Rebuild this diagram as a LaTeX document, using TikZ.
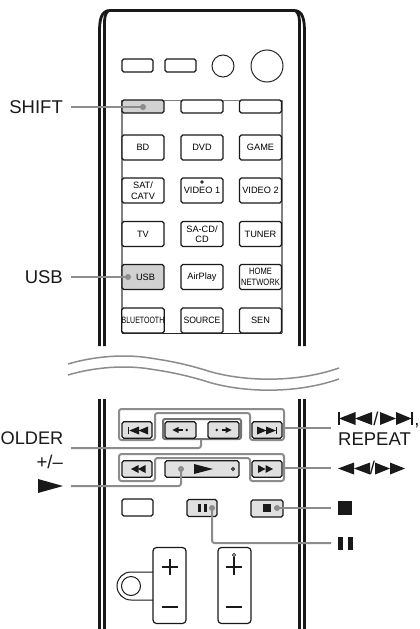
\documentclass[tikz,border=0pt]{standalone}
\usepackage{fontspec}
\setmainfont{Liberation Sans}
\tikzset{
  x=1pt,y=-1pt,
  body/.style={line width=2.8pt,color=black!90},
  conn/.style={line width=2pt,color=black!45,rounded corners=2.5pt},
  frameline/.style={line width=2pt,color=black!45,rounded corners=2.5pt},
  thinframe/.style={line width=1.2pt,color=black!50},
  btn/.style={draw=black!90,line width=1.2pt,rounded corners=1.8pt,fill=white,inner sep=0pt,align=center,
     minimum width=42pt,minimum height=25pt,font=\fontsize{9.2}{10.5}\selectfont,text=black},
  wideb/.style={btn,minimum height=13pt},
  tbtn/.style={btn,fill=black!12,minimum width=30pt,minimum height=16.5pt},
  dot/.style={circle,fill=black!45,inner sep=0pt,minimum size=6pt},
  glyph/.style={fill=black!90,draw=none},
  lab/.style={inner sep=0pt,font=\fontsize{18.5}{20}\selectfont,text=black!90},
  wave/.style={line width=1.5pt,color=black!45}
}
\begin{document}
\begin{tikzpicture}
\useasboundingbox (0,0) rectangle (420,629);
\clip (0,0) rectangle (420,629);
\fill[white] (0,0) rectangle (420,629);
% remote body, upper part
\draw[body] (99.5,346) -- (99.5,32) .. controls (99.5,20) and (101,10.5) .. (110,10.5) -- (294,10.5) .. controls (303,10.5) and (304.5,20) .. (304.5,32) -- (304.5,346);
\draw[body] (104.5,346) -- (104.5,24) .. controls (104.5,18) and (105,14) .. (108,11);
\draw[body] (299.5,346) -- (299.5,24) .. controls (299.5,18) and (299,14) .. (296,11);
% remote body, lower part
\draw[body] (99.5,399) -- (99.5,629);
\draw[body] (104.5,399) -- (104.5,629);
\draw[body] (299.5,399) -- (299.5,629);
\draw[body] (304.5,399) -- (304.5,629);
% break marks
\draw[wave] (68,364) .. controls (95,356) and (125,354) .. (150,358) .. controls (170,361) and (185,364) .. (205,370) .. controls (235,380) and (290,385) .. (339,368);
\draw[wave] (68,375) .. controls (95,367) and (125,365) .. (150,369) .. controls (170,372) and (185,375) .. (205,381) .. controls (235,391) and (290,396) .. (339,379);
% top controls
\node[btn,minimum width=31pt,minimum height=13pt] (t1) at (137.5,65.5) {};
\node[btn,minimum width=31pt,minimum height=13pt] (t2) at (180.5,65.5) {};
\node[circle,draw=black!85,line width=1pt,minimum size=22pt,inner sep=0pt] (t3) at (223,66) {};
\node[circle,draw=black!85,line width=1pt,minimum size=32pt,inner sep=0pt] (t4) at (267,66) {};
% input block frame
\draw[thinframe] (122,100) -- (122,333);
\draw[thinframe] (282,100) -- (282,333);
\draw[black!50,line width=.7pt] (122,100) -- (282,100);
\draw[black!85,line width=1pt] (122,333) -- (282,333);
% input buttons
\node[wideb,fill=black!18] (shiftb) at (143,106.5) {};
\node[wideb] (r1b) at (202,106.5) {};
\node[wideb] (r1c) at (260.5,106.5) {};
\node[btn] (bd) at (143,147.5) {BD};
\node[btn] (dvd) at (202,147.5) {DVD};
\node[btn] (game) at (260.5,147.5) {GAME};
\node[btn] (sat) at (143,190.5) {SAT/\\CATV};
\node[btn] (v1) at (202,190.5) {VIDEO 1};
\node[btn] (v2) at (260.5,190.5) {VIDEO 2};
\node[circle,draw=black!90,line width=.8pt,minimum size=2.6pt,inner sep=0pt] (v1dot) at (202,182) {};
\node[btn] (tv) at (143,234) {TV};
\node[btn] (sacd) at (202,234) {SA-CD/\\CD};
\node[btn] (tuner) at (260.5,234) {TUNER};
\node[btn,fill=black!18] (usb) at (143,277) {\hspace*{5pt}USB};
\node[btn] (airplay) at (202,277) {AirPlay};
\node[btn] (home) at (260.5,277) {\scalebox{.82}[1]{HOME}\\\scalebox{.82}[1]{NETWORK}};
\node[btn] (bt) at (143,320.5) {\scalebox{.76}[1]{BLUETOOTH}};
\node[btn] (source) at (202,320.5) {\scalebox{.94}[1]{SOURCE}};
\node[btn] (sen) at (260.5,320.5) {SEN};
% transport frames
\draw[frameline] (155,440) -- (119,440) -- (119,409) -- (284,409) -- (284,440) -- (250,440) -- (250,413) -- (155,413) -- cycle;
\draw[frameline] (155,481) -- (119,481) -- (119,454) -- (284,454) -- (284,481) -- (250,481) -- (250,458) -- (155,458) -- cycle;
\draw[line width=2pt,color=black!55,rounded corners=2pt,fill=white] (163,419) rectangle (241,439);
% transport buttons
\node[tbtn] (prev) at (137,430) {};
\node[tbtn,minimum width=31pt] (fb) at (180.5,430) {};
\node[tbtn,minimum width=31pt] (ff) at (223.5,430) {};
\node[tbtn] (next) at (267,430) {};
\node[tbtn] (rew) at (137,469) {};
\node[tbtn,minimum width=74pt] (play) at (202,469) {};
\node[tbtn] (fwd) at (267,469) {};
\node[btn,minimum width=31pt,minimum height=17pt] (blank) at (137.5,507.5) {};
\node[tbtn,minimum height=17pt] (pause) at (202,508) {};
\node[tbtn,minimum width=32pt,minimum height=17pt] (stop) at (267,508.5) {};
% glyphs on buttons
\fill[glyph] (128,427) rectangle (129.3,434);
\fill[glyph] (129.3,430.5) -- (139,426.5) -- (139,434.5) -- cycle;
\fill[glyph] (138.5,430.5) -- (148,426.5) -- (148,434.5) -- cycle;
\fill[glyph] (172.3,430) -- (178.5,427) -- (178.5,433) -- cycle;
\fill[glyph] (178,429.3) rectangle (183,430.7);
\fill[glyph] (186.7,430) circle (1.4);
\fill[glyph] (216.7,430) circle (1.4);
\fill[glyph] (221.5,429.3) rectangle (226,430.7);
\fill[glyph] (231.7,430) -- (225.5,427) -- (225.5,433) -- cycle;
\fill[glyph] (257,426.5) -- (266.5,430.5) -- (257,434.5) -- cycle;
\fill[glyph] (266,426.5) -- (276,430.5) -- (266,434.5) -- cycle;
\fill[glyph] (276,427) rectangle (277.3,434);
\fill[glyph] (131,469) -- (138.5,465) -- (138.5,473) -- cycle;
\fill[glyph] (138,469) -- (145.5,465) -- (145.5,473) -- cycle;
\fill[glyph] (258,465) -- (265.5,469) -- (258,473) -- cycle;
\fill[glyph] (265.5,465) -- (273,469) -- (265.5,473) -- cycle;
\fill[glyph] (194,464) -- (213,469) -- (194,474) -- cycle;
\node[circle,draw=black!90,line width=.8pt,minimum size=3pt,inner sep=0pt] (playmark) at (233,469) {};
\fill[glyph] (198,504) rectangle (201.3,512);
\fill[glyph] (203.5,504) rectangle (206.8,512);
\fill[glyph] (263,504) rectangle (271,512);
% volume and programme rockers
\draw[black!90,line width=1pt] (153,572) -- (131,572) arc[start angle=270,delta angle=-180,radius=14] -- (153,600);
\node[circle,draw=black!90,line width=1pt,minimum size=19pt,inner sep=0pt] (ring) at (131,586) {};
\node[btn,minimum width=33pt,minimum height=76pt,rounded corners=3.5pt] (vol) at (169.5,585.5) {};
\node[btn,minimum width=33pt,minimum height=76pt,rounded corners=3.5pt] (prog) at (234.5,585.5) {};
\draw[black!90,line width=1.2pt] (162,567) -- (178,567) (170,559) -- (170,575);
\draw[black!90,line width=1.2pt] (162,607) -- (178,607);
\draw[black!90,line width=1.2pt] (226,567) -- (242,567) (234,557) -- (234,575);
\draw[black!90,line width=1.2pt] (226,607) -- (242,607);
\node[circle,draw=black!90,line width=.8pt,fill=white,minimum size=3.2pt,inner sep=0pt] (progdot) at (234,555) {};
% labels
\node[lab,anchor=east] (shiftl) at (63,107) {SHIFT};
\node[lab,anchor=east] (usbl) at (63,277) {USB};
\node[lab,anchor=east,font=\fontsize{18.2}{20}\selectfont] (folderl) at (63.5,438) {OLDER};
\node[lab,anchor=east] (pml) at (63,462) {+/–};
\fill[glyph] (38,479) -- (63,486) -- (38,493) -- cycle;
\fill[glyph] (338,412) rectangle (340,425);
\fill[glyph] (339,418.5) -- (355.5,412) -- (355.5,425) -- cycle;
\fill[glyph] (355,418.5) -- (372,412) -- (372,425) -- cycle;
\node[lab] (slasha) at (376,418.5) {/};
\fill[glyph] (380,412) -- (396,418.5) -- (380,425) -- cycle;
\fill[glyph] (396,412) -- (411.5,418.5) -- (396,425) -- cycle;
\fill[glyph] (411,412) rectangle (413,425);
\node[lab,anchor=base] (comma) at (417,425) {,};
\node[lab,anchor=west] (repeatl) at (338,439) {REPEAT};
\fill[glyph] (338,468.5) -- (354,462.5) -- (354,474.5) -- cycle;
\fill[glyph] (354,468.5) -- (370,462.5) -- (370,474.5) -- cycle;
\node[lab] (slashb) at (372.5,468) {/};
\fill[glyph] (375,462.5) -- (390,468.5) -- (375,474.5) -- cycle;
\fill[glyph] (390,462.5) -- (405,468.5) -- (390,474.5) -- cycle;
\fill[glyph] (338,501) rectangle (352,515);
\fill[glyph] (338,537) rectangle (343,550);
\fill[glyph] (347.5,537) rectangle (353,550);
% connector ends
\coordinate (c1) at (71,107);
\coordinate (c2) at (71,277);
\coordinate (c3) at (71,448);
\coordinate (c4) at (71,486);
\coordinate (c5) at (331,428);
\coordinate (c6) at (331,468);
\coordinate (c7) at (331,508);
\coordinate (c8) at (331,543);
\node[dot] (d1) at (143,107) {};
\node[dot] (d2) at (128,277) {};
\node[dot] (d4) at (181,469) {};
\node[dot] (d7) at (277,508) {};
\node[dot] (d8) at (212,508) {};
\coordinate (fbot) at (201,440);
\coordinate (fr1) at (284,428);
\coordinate (fr2) at (284,468);
% connectors
\draw[conn] (c1) -- (d1.center);
\draw[conn] (c2) -- (d2.center);
\draw[conn] (c3) -| (fbot);
\draw[conn] (c4) -| (d4.center);
\draw[conn] (fr1) -- (c5);
\draw[conn] (fr2) -- (c6);
\draw[conn] (d7.center) -- (c7);
\draw[conn] (d8.center) |- (c8);
\end{tikzpicture}
\end{document}
